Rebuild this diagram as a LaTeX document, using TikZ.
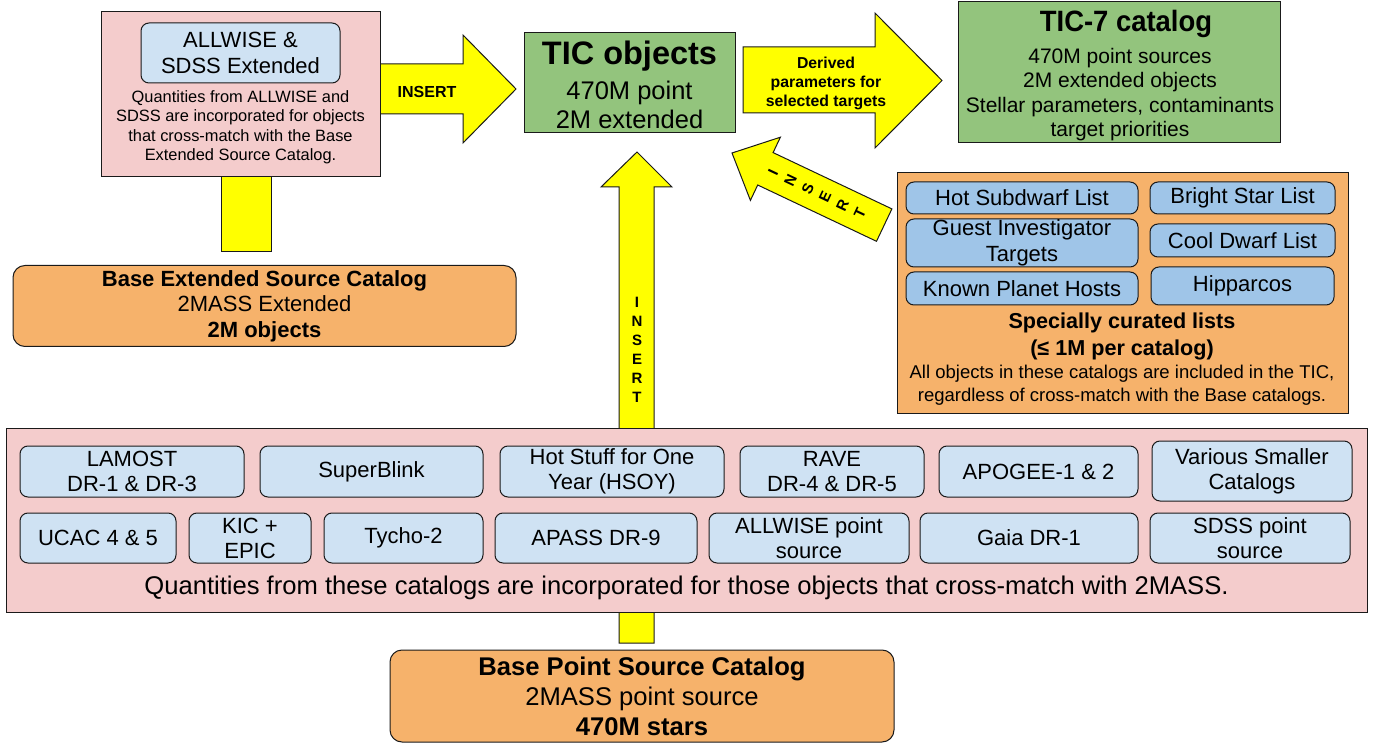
\documentclass[tikz,border=0pt]{standalone}
\usepackage{fontspec}
\setmainfont{Liberation Sans}
\usetikzlibrary{calc}
\definecolor{pinkc}{HTML}{F4CCCC}
\definecolor{lblue}{HTML}{CFE2F3}
\definecolor{mblue}{HTML}{9FC5E8}
\definecolor{orangec}{HTML}{F6B26B}
\definecolor{greenc}{HTML}{93C47D}
\definecolor{yelc}{HTML}{FFFF00}
\definecolor{edgec}{HTML}{1A1A1A}
\newcommand\fsz[2]{\fontsize{#1}{#2}\selectfont}
\begin{document}
\begin{tikzpicture}[x=1pt,y=-1pt,
  every node/.style={inner sep=0pt, outer sep=0pt, align=center, text=black},
  edgeline/.style={draw=edgec, line width=1pt},
  pinkbox/.style={edgeline, fill=pinkc, rectangle},
  greenbox/.style={edgeline, fill=greenc, rectangle},
  orangebox/.style={edgeline, fill=orangec, rectangle},
  baseboxst/.style={edgeline, fill=orangec, rectangle, rounded corners=12pt},
  lbluebox/.style={edgeline, fill=lblue, rectangle, rounded corners=8pt, font={\fsz{22}{25}}},
  mbluebox/.style={edgeline, fill=mblue, rectangle, rounded corners=8pt, font={\fsz{22}{25.5}}},
  yarrow/.style={edgeline, fill=yelc, line join=miter},
  wh/.style 2 args={minimum width=#1, minimum height=#2}
]
\useasboundingbox (0,0) rectangle (1377,743);

% ---------- yellow arrows (behind boxes) ----------
\draw[yarrow] (221,170) rectangle (271,252);
\draw[yarrow] (372,64) -- (463,64) -- (463,35) -- (516,89) -- (463,143) -- (463,114) -- (372,114) -- cycle;
\draw[yarrow] (619,643) -- (619,187) -- (601,187) -- (637,152) -- (672,187) -- (654,187) -- (654,643) -- cycle;
\draw[yarrow] (743,47) -- (875,47) -- (875,13) -- (942,80.5) -- (875,148) -- (875,113) -- (743,113) -- cycle;
\draw[yarrow] (732,153) -- (780.4,137.2) -- (773.1,152.6) -- (891.9,208.9) -- (876.5,241.3) -- (757.7,185.0) -- (750.4,200.4) -- cycle;

% arrow labels
\node[font={\fsz{16}{19}\bfseries}] (insA) at (427,92) {INSERT};
\node[font={\fsz{15.8}{19}\bfseries}] (derl) at (826,83) {Derived\\parameters for\\selected targets};
\node[font={\fsz{15}{19}\bfseries}] (insV) at (637,349.5) {I\\N\\S\\E\\R\\T};
\node[font={\fsz{15}{19.2}\bfseries}, rotate=64.7] (insD) at (816.5,193) {I\\N\\S\\E\\R\\T};

% ---------- top-left ----------
\node[pinkbox, wh={279}{165}] (allwbox) at (240.5,94.5) {};
\node[lbluebox, wh={199}{60}, font={\fsz{22}{26}}] (allwin) at (240.5,53) {ALLWISE \&\\SDSS Extended};
\node[font={\fsz{16.4}{19.5}}] (allwtxt) at (240.5,127.5) {Quantities from ALLWISE and\\SDSS are incorporated for objects\\that cross-match with the Base\\Extended Source Catalog.};

\node[baseboxst, wh={503}{81}, font={\fsz{22}{25.5}}] (baseext) at (264.5,306) {\textbf{Base Extended Source Catalog}\\2MASS Extended\\\textbf{2M objects}};

% ---------- TIC objects ----------
\node[greenbox, wh={211}{100}] (tic) at (629.5,83) {};
\node[anchor=base, font={\fsz{32.5}{34}\bfseries}] (tict) at (629.5,65) {TIC objects};
\node[anchor=base, font={\fsz{25.5}{30}}] (tic1) at (629.5,100) {470M point};
\node[anchor=base, font={\fsz{25.5}{30}}] (tic2) at (629.5,128.5) {2M extended};

% ---------- TIC-7 ----------
\node[greenbox, wh={322}{141}] (tic7) at (1119,72.5) {};
\node[anchor=base, font={\fsz{28}{30}\bfseries}] (tic7t) at (1126,32) {\scalebox{0.98}[1.05]{TIC-7 catalog}};
\node[font={\fsz{21}{24.5}}] (tic7l) at (1120,94.5) {470M point sources\\2M extended objects\\Stellar parameters, contaminants\\target priorities};

% ---------- curated lists ----------
\node[orangebox, wh={451}{241}] (cur) at (1122.5,293.5) {};
\node[mbluebox, wh={232}{32}] (hsd) at (1022,198) {Hot Subdwarf List};
\node[mbluebox, wh={185}{32}] (bsl) at (1242.5,198) {Bright Star List};
\node[mbluebox, wh={232}{48}] (git) at (1022,243) {Guest Investigator\\Targets};
\node[mbluebox, wh={185}{33}] (cdl) at (1242.5,240.5) {Cool Dwarf List};
\node[mbluebox, wh={232}{33}] (kph) at (1022,288.5) {Known Planet Hosts};
\node[mbluebox, wh={183}{38}] (hip) at (1242.5,286) {Hipparcos};
\node[font={\fsz{21.6}{27}\bfseries}] (curt) at (1122,336) {Specially curated lists\\(≤ 1M per catalog)};
\node[font={\fsz{18.5}{23}}] (curs) at (1122,385) {All objects in these catalogs are included in the TIC,\\regardless of cross-match with the Base catalogs.};

% ---------- bottom catalogs ----------
\node[pinkbox, wh={1361}{184}] (cats) at (686.5,520) {};
\node[lbluebox, wh={224}{51}] (lam) at (132,471.5) {LAMOST\\DR-1 \& DR-3};
\node[lbluebox, wh={223}{51}] (sbl) at (371.5,471.5) {SuperBlink};
\node[lbluebox, wh={224}{51}] (hsoy) at (612,471.5) {Hot Stuff for One\\Year (HSOY)};
\node[lbluebox, wh={184}{51}] (rave) at (832,471.5) {RAVE\\DR-4 \& DR-5};
\node[lbluebox, wh={199}{51}] (apo) at (1038.5,471.5) {APOGEE-1 \& 2};
\node[lbluebox, wh={200}{60}] (vsc) at (1252,471) {Various Smaller\\Catalogs};
\node[lbluebox, wh={156}{50}] (ucac) at (98,538) {UCAC 4 \& 5};
\node[lbluebox, wh={122}{50}] (kic) at (250,538) {KIC +\\EPIC};
\node[lbluebox, wh={159}{50}] (tyc) at (403.5,538) {Tycho-2};
\node[lbluebox, wh={202}{50}] (apass) at (596,538) {APASS DR-9};
\node[lbluebox, wh={200}{50}] (awp) at (809,538) {ALLWISE point\\source};
\node[lbluebox, wh={218}{50}] (gaia) at (1029,538) {Gaia DR-1};
\node[lbluebox, wh={200}{50}] (sdss) at (1250,538) {SDSS point\\source};
\node[anchor=base, font={\fsz{25.6}{28}}] (catt) at (686.5,594) {Quantities from these catalogs are incorporated for those objects that cross-match with 2MASS.};

% ---------- base point ----------
\node[baseboxst, wh={504}{92}, font={\fsz{25.6}{30}}] (basept) at (642,696) {\textbf{Base Point Source Catalog}\\2MASS point source\\\textbf{470M stars}};
\end{tikzpicture}
\end{document}
